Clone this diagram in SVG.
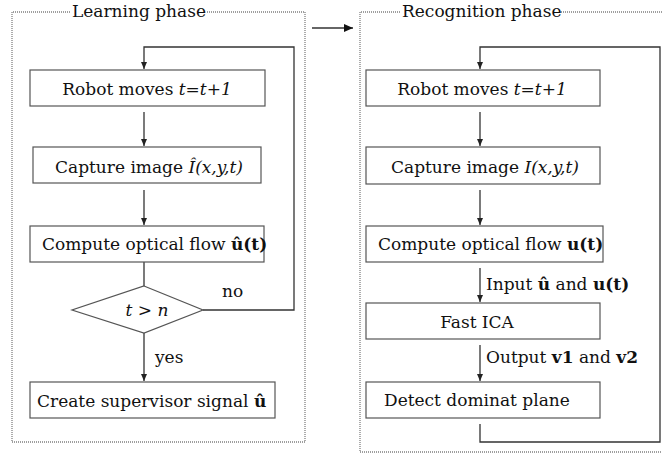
<svg xmlns="http://www.w3.org/2000/svg" width="662" height="457" viewBox="0 0 662 457">
<style>
.frame{fill:none;stroke:#808080;stroke-width:1.3;stroke-dasharray:1,1}
.box{fill:#fff;stroke:#555;stroke-width:1.2}
.ln{fill:none;stroke:#333;stroke-width:1.3}
.t{font-family:"DejaVu Serif","Liberation Serif",serif;font-size:17px;fill:#111}
.c{text-anchor:middle}
.i{font-style:italic}
.b{font-weight:bold}
</style>
<defs>
<marker id="ah" markerUnits="userSpaceOnUse" markerWidth="8" markerHeight="8" refX="7" refY="4" orient="auto">
<path d="M0,1 L7,4 L0,7 z" fill="#222"/>
</marker>
<marker id="ah2" markerUnits="userSpaceOnUse" markerWidth="10" markerHeight="10" refX="9" refY="5" orient="auto">
<path d="M0,1 L9,5 L0,9 z" fill="#111"/>
</marker>
</defs>
<rect width="662" height="457" fill="#fff"/>

<g id="learning-phase">
<path class="frame" d="M70,12 H12 V442 H305 V12 H207"/>
<text class="t" x="72" y="17">Learning phase</text>
</g>
<g id="recognition-phase">
<path class="frame" d="M400,12 H360 V452 H670 M561,12 H670"/>
<text class="t" x="402" y="17">Recognition phase</text>
</g>

<g id="connectors">
<path class="ln" d="M312,28 H353" stroke-width="2" marker-end="url(#ah2)"/>
<path class="ln" d="M203,310 H294 V47 H144 V69" marker-end="url(#ah)"/>
<path class="ln" d="M144,112 V146" marker-end="url(#ah)"/>
<path class="ln" d="M144,190 V225" marker-end="url(#ah)"/>
<path class="ln" d="M144,262 V286"/>
<path class="ln" d="M144,333 V381" marker-end="url(#ah)"/>
<text class="t" x="222" y="297">no</text>
<text class="t" x="155" y="363">yes</text>
<path class="ln" d="M480,112 V146" marker-end="url(#ah)"/>
<path class="ln" d="M480,190 V225" marker-end="url(#ah)"/>
<path class="ln" d="M480,268 V302" marker-end="url(#ah)"/>
<path class="ln" d="M480,345 V381" marker-end="url(#ah)"/>
<path class="ln" d="M480,424 V442 H660 V47 H480 V69" marker-end="url(#ah)"/>
<text class="t" x="486" y="290">Input <tspan class="b">û</tspan> and <tspan class="b">u(t)</tspan></text>
<text class="t" x="486" y="363">Output <tspan class="b">v1</tspan> and <tspan class="b">v2</tspan></text>
</g>

<g id="l-robot-moves">
<rect class="box" x="30" y="70" width="235" height="36"/>
<text class="t c" x="147" y="95">Robot moves <tspan class="i">t=t+1</tspan></text>
</g>
<g id="l-capture-image">
<rect class="box" x="33" y="147" width="228" height="36"/>
<text class="t c" x="149" y="173">Capture image <tspan class="i">Î(x,y,t)</tspan></text>
</g>
<g id="l-optical-flow">
<rect class="box" x="30" y="226" width="234" height="36"/>
<text class="t" x="42" y="250">Compute optical flow <tspan class="b">û(t)</tspan></text>
</g>
<g id="l-decision">
<path class="box" d="M144,286 L203,310 L144,333 L72,310 Z"/>
<text class="t c i" x="147" y="316">t &gt; n</text>
</g>
<g id="l-supervisor">
<rect class="box" x="30" y="382" width="245" height="36"/>
<text class="t" x="37" y="407">Create supervisor signal <tspan class="b">û</tspan></text>
</g>

<g id="r-robot-moves">
<rect class="box" x="366" y="70" width="234" height="36"/>
<text class="t c" x="482" y="95">Robot moves <tspan class="i">t=t+1</tspan></text>
</g>
<g id="r-capture-image">
<rect class="box" x="366" y="147" width="234" height="37"/>
<text class="t c" x="485" y="173">Capture image <tspan class="i">I(x,y,t)</tspan></text>
</g>
<g id="r-optical-flow">
<rect class="box" x="366" y="226" width="237" height="36"/>
<text class="t" x="378" y="250">Compute optical flow <tspan class="b">u(t)</tspan></text>
</g>
<g id="r-fast-ica">
<rect class="box" x="366" y="303" width="234" height="36"/>
<text class="t c" x="477" y="328">Fast ICA</text>
</g>
<g id="r-detect-plane">
<rect class="box" x="366" y="382" width="234" height="36"/>
<text class="t" x="384" y="406">Detect dominat plane</text>
</g>
</svg>
